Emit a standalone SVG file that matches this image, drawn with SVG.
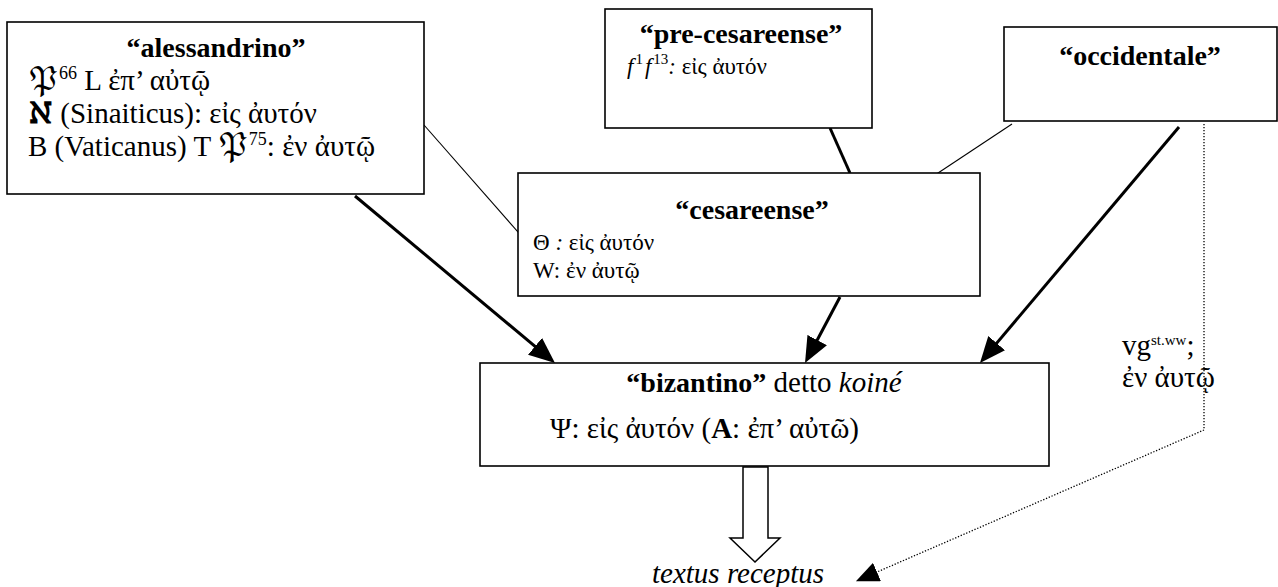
<svg xmlns="http://www.w3.org/2000/svg" width="1278" height="587" viewBox="0 0 1278 587">
<style>
  text { font-family: "Liberation Serif", "DejaVu Serif", "DejaVu Math TeX Gyre", "Noto Sans Math", serif; font-size: 29px; fill: #000; }
  .h { font-weight: bold; font-size: 28px; }
  .c { text-anchor: middle; }
  .sup { font-size: 18px; }
  .small { font-size: 23px; }
  .sup2 { font-size: 15px; }
  .box { fill: #fff; stroke: #000; stroke-width: 1.6; }
  .thin { stroke: #000; stroke-width: 1.1; fill: none; }
  .thick { stroke: #000; stroke-width: 3; fill: none; }
  .dot { stroke: #000; stroke-width: 1.3; stroke-dasharray: 1.3 1.7; fill: none; }
</style>
<defs>
  <marker id="head" viewBox="0 0 26 22" refX="16" refY="11" markerWidth="26" markerHeight="22" markerUnits="userSpaceOnUse" orient="auto">
    <path d="M0,0 L26,11 L0,22 z" fill="#000"/>
  </marker>
  <marker id="dothead" viewBox="0 0 23 20" refX="0" refY="10" markerWidth="23" markerHeight="20" markerUnits="userSpaceOnUse" orient="auto">
    <path d="M0,0 L23,10 L0,20 z" fill="#000"/>
  </marker>
</defs>
<rect width="1278" height="587" fill="#fff"/>

<g id="connectors">
  <line class="thin" x1="424" y1="125" x2="532" y2="248"/>
  <line class="thick" x1="830" y1="128" x2="850" y2="173"/>
  <line class="thin" x1="1012" y1="124" x2="929" y2="179"/>
  <line class="thick" x1="355" y1="196" x2="547.3" y2="356.6" marker-end="url(#head)"/>
  <line class="thick" x1="840" y1="297" x2="809.7" y2="354.2" marker-end="url(#head)"/>
  <line class="thick" x1="1179" y1="127" x2="986.4" y2="355.4" marker-end="url(#head)"/>
  <polyline class="dot" points="1204,124 1204,430 877,572" marker-end="url(#dothead)"/>
  <polygon points="743,467 768,467 768,538 780,538 755,562 730,538 743,538" fill="#fff" stroke="#000" stroke-width="1.5"/>
</g>

<g id="alessandrino">
  <rect class="box" x="7" y="22" width="417" height="172"/>
  <text class="h c" x="216" y="57">“alessandrino”</text>
  <text x="28" y="90">𝔓<tspan class="sup" dy="-11">66</tspan><tspan dy="11"> L ἐπ’ αὐτῷ</tspan></text>
  <text x="28" y="123"><tspan font-weight="bold">ℵ</tspan> (Sinaiticus): εἰς ἀυτόν</text>
  <text x="28" y="156">B (Vaticanus) T 𝔓<tspan class="sup" dy="-11">75</tspan><tspan dy="11">: ἐν ἀυτῷ</tspan></text>
</g>

<g id="pre-cesareense">
  <rect class="box" x="605" y="9" width="267" height="119"/>
  <text class="h c" x="741" y="43" font-size="30">“pre-cesareense”</text>
  <text class="small" x="627" y="74"><tspan font-style="italic">f</tspan><tspan class="sup2" dx="2" dy="-10">1</tspan><tspan dx="2" dy="10" font-style="italic">f</tspan><tspan class="sup2" dx="2" dy="-10">13</tspan><tspan dy="10" font-style="italic">:</tspan> εἰς ἀυτόν</text>
</g>

<g id="occidentale">
  <rect class="box" x="1004" y="27" width="273" height="94"/>
  <text class="h c" x="1140" y="65">“occidentale”</text>
</g>

<g id="cesareense">
  <rect class="box" x="518" y="173" width="462" height="123"/>
  <text class="h c" x="752" y="219" font-size="30">“cesareense”</text>
  <text class="small" x="533" y="250">Θ <tspan font-style="italic">:</tspan> εἰς ἀυτόν</text>
  <text class="small" x="533" y="278">W: ἐν ἀυτῷ</text>
</g>

<g id="bizantino">
  <rect class="box" x="480" y="363" width="569" height="103"/>
  <text class="c" x="764" y="392"><tspan class="h" font-size="29">“bizantino”</tspan> detto <tspan font-style="italic">koiné</tspan></text>
  <text x="550" y="438">Ψ: εἰς ἀυτόν (<tspan font-weight="bold">A</tspan>: ἐπ’ αὐτῶ)</text>
</g>

<g id="vg">
  <text x="1122" y="355" font-size="25">vg<tspan class="sup2" dy="-10">st.ww</tspan><tspan dy="10">;</tspan></text>
  <text x="1122" y="387" font-size="25">ἐν ἀυτῷ</text>
</g>

<g id="textus-receptus">
  <text x="652" y="583" font-style="italic" font-size="32">textus receptus</text>
</g>
</svg>
